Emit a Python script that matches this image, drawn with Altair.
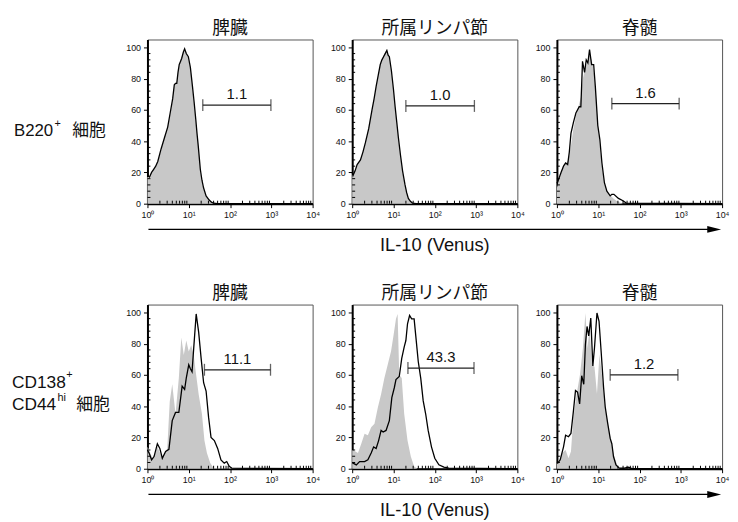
import math
import altair as alt
import pandas as pd

# ---------------- data ----------------
col_titles = ["脾臓", "所属リンパ節", "脊髄"]
axis_title = "IL-10 (Venus)"
x_tick_values = [0, 1, 2, 3, 4]
x_tick_labels = ["10⁰", "10¹", "10²", "10³", "10⁴"]
y_tick_values = [0, 20, 40, 60, 80, 100]

row1_label = ["B220", "+", "細胞"]
row2_label = ["CD138", "+", "CD44", "hi", "細胞"]

# x = log10(intensity), y = % of max
# Row 1 / B220+ : spleen
p1_line_x = [0.0, 0.05, 0.10, 0.15, 0.20, 0.25, 0.33, 0.41, 0.49, 0.55, 0.61, 0.65, 0.68, 0.71, 0.74, 0.77, 0.80, 0.83,
             0.87, 0.90, 0.94, 0.99, 1.04, 1.09, 1.13, 1.17, 1.20, 1.23, 1.26, 1.28, 1.32, 1.36, 1.42, 1.49, 1.55, 1.60, 1.70, 4.0]
p1_line_y = [18, 17, 20, 22, 24, 27, 35, 42, 49, 58, 67, 76, 77, 77, 84, 89, 91, 93,
             97, 99, 96, 94, 87, 75, 65, 54, 45, 37, 28, 22, 15, 10, 5, 2.5, 1, 0.3, 0, 0]
p1_fill_x = [0.0, 0.05, 0.10, 0.15, 0.20, 0.25, 0.33, 0.41, 0.49, 0.55, 0.61, 0.65, 0.68, 0.71, 0.74, 0.77, 0.80, 0.83,
             0.87, 0.90, 0.94, 0.99, 1.04, 1.09, 1.13, 1.17, 1.20, 1.23, 1.26, 1.28, 1.32, 1.36, 1.42, 1.49, 1.55, 1.60, 1.70, 4.0]
p1_fill_y = [17, 17, 19, 22, 24, 27, 34, 42, 49, 57, 66, 75, 77, 78, 84, 88, 91, 94,
             97, 98, 97, 93, 86, 74, 64, 53, 44, 36, 27, 21, 14, 9, 5, 2.5, 1, 0.3, 0, 0]
# Row 1 : lymph node
p2_line_x = [0.0, 0.02, 0.07, 0.12, 0.20, 0.26, 0.32, 0.40, 0.48, 0.53, 0.58, 0.63, 0.68, 0.72, 0.76, 0.80, 0.84, 0.87,
             0.90, 0.95, 1.00, 1.04, 1.08, 1.12, 1.17, 1.22, 1.28, 1.32, 1.36, 1.41, 1.46, 1.55, 4.0]
p2_line_y = [20, 18, 21, 25, 28, 33, 39, 48, 60, 67, 75, 82, 89, 92, 94, 96, 98, 95,
             94, 85, 73, 62, 52, 42, 31, 21, 12, 7, 3.4, 1.5, 0.4, 0, 0]
p2_fill_x = [0.0, 0.02, 0.07, 0.12, 0.20, 0.26, 0.32, 0.40, 0.48, 0.53, 0.58, 0.63, 0.68, 0.72, 0.76, 0.80, 0.84, 0.87,
             0.90, 0.95, 1.00, 1.04, 1.08, 1.12, 1.17, 1.22, 1.28, 1.32, 1.36, 1.41, 1.46, 1.55, 4.0]
p2_fill_y = [19, 18, 21, 25, 28, 33, 39, 48, 59, 67, 75, 82, 88, 92, 95, 97, 99, 96,
             93, 84, 72, 61, 51, 41, 30, 20, 11, 6, 3, 1.5, 0.4, 0, 0]
# Row 1 : spinal cord
p3_line_x = [0.0, 0.02, 0.10, 0.16, 0.21, 0.26, 0.30, 0.34, 0.40, 0.46, 0.54, 0.58, 0.62, 0.67, 0.71, 0.75, 0.79, 0.84,
             0.89, 0.93, 0.99, 1.04, 1.09, 1.15, 1.21, 1.29, 1.33, 1.38, 1.49, 1.60, 1.68, 4.0]
p3_line_y = [13, 14, 20, 24, 26, 25, 33, 45, 52, 58, 62, 62, 91, 84, 92, 90, 98.5, 89,
             89, 75, 50, 41, 26, 13.5, 8, 5, 6, 6, 3.4, 1.9, 0.4, 0]
p3_fill_x = [0.0, 0.05, 0.12, 0.20, 0.28, 0.34, 0.40, 0.46, 0.52, 0.58, 0.63, 0.68, 0.73, 0.79, 0.84, 0.89, 0.95, 1.00,
             1.05, 1.10, 1.16, 1.22, 1.30, 1.38, 1.46, 1.55, 1.62, 4.0]
p3_fill_y = [10, 15, 21, 25, 28, 37, 48, 56, 62, 68, 80, 86, 90, 95, 92, 85, 68, 48,
             34, 22, 12, 7, 5, 3, 1.5, 0.5, 0, 0]
# Row 2 / CD138+ CD44hi : spleen
p4_line_x = [0.0, 0.04, 0.10, 0.16, 0.24, 0.30, 0.36, 0.44, 0.52, 0.60, 0.68, 0.76, 0.84, 0.90, 0.94, 1.00, 1.04, 1.08,
             1.12, 1.18, 1.24, 1.30, 1.36, 1.42, 1.48, 1.54, 1.62, 1.70, 1.78, 1.86, 1.92, 1.98, 2.04, 4.0]
p4_line_y = [12, 10, 5.7, 7.8, 16, 13, 6.7, 11, 12.4, 30.8, 36, 36, 52.8, 50.7, 58, 66.5, 64, 62,
             77, 99, 87.4, 70.6, 55, 49.7, 33, 20, 18, 13, 5.7, 3.6, 4.6, 1.5, 0.4, 0]
p4_fill_x = [0.0, 0.04, 0.12, 0.24, 0.36, 0.48, 0.54, 0.60, 0.68, 0.76, 0.82, 0.88, 0.94, 1.00, 1.06, 1.12, 1.16, 1.24,
             1.32, 1.38, 1.44, 1.52, 1.60, 4.0]
p4_fill_y = [14, 12, 6.7, 14, 6.7, 13, 43, 54, 35, 58, 84, 72.7, 82, 75, 79, 72.7, 64, 47.6,
             35, 18, 10, 3.6, 0.4, 0]
# Row 2 : lymph node
p5_line_x = [0.0, 0.02, 0.10, 0.18, 0.30, 0.38, 0.46, 0.52, 0.58, 0.64, 0.70, 0.75, 0.82, 0.90, 0.96, 1.02, 1.06, 1.14,
             1.20, 1.26, 1.30, 1.34, 1.39, 1.44, 1.50, 1.54, 1.60, 1.66, 1.72, 1.78, 1.84, 1.92, 2.00, 2.10, 2.22, 2.34, 4.0]
p5_line_y = [4, 3.6, 2.5, 4.6, 4.6, 5.7, 10, 14, 13, 18, 24.5, 23.5, 24.5, 30.8, 45.5, 51.8, 57, 59,
             70.6, 78, 82, 92.7, 98, 95.8, 95.8, 85, 68.6, 58, 43.4, 35, 24.5, 14, 6.7, 2.5, 1, 0.4, 0]
p5_fill_x = [0.0, 0.02, 0.14, 0.22, 0.30, 0.38, 0.46, 0.54, 0.62, 0.70, 0.78, 0.86, 0.94, 1.00, 1.06, 1.10, 1.14, 1.20,
             1.26, 1.34, 1.42, 1.50, 1.58, 4.0]
p5_fill_y = [12, 12, 10, 16, 22.4, 21.4, 26.6, 28.7, 39, 47.6, 58, 66.5, 75, 85, 95.8, 99, 60, 58,
             35, 18, 7.8, 1.5, 0, 0]
# Row 2 : spinal cord
p6_line_x = [0.0, 0.02, 0.08, 0.16, 0.21, 0.28, 0.34, 0.40, 0.45, 0.50, 0.55, 0.60, 0.65, 0.69, 0.73, 0.77, 0.82, 0.87,
             0.91, 0.97, 1.02, 1.07, 1.13, 1.17, 1.23, 1.29, 1.33, 1.37, 1.43, 1.51, 1.63, 1.73, 1.83, 4.0]
p6_line_y = [4, 3.6, 5.7, 14, 21.5, 20.5, 22.6, 37, 50, 49, 41.5, 59.5, 54, 79.5, 91, 85, 96.4, 65.8,
             77.4, 99.6, 94.3, 75.3, 52, 39.5, 29, 19.4, 16, 7.8, 2.5, 0.4, 0.4, 1, 0, 0]
p6_fill_x = [0.0, 0.02, 0.12, 0.21, 0.28, 0.34, 0.40, 0.48, 0.56, 0.63, 0.69, 0.74, 0.79, 0.85, 0.91, 0.97, 1.03, 1.10,
             1.17, 1.23, 1.31, 1.39, 1.47, 1.53, 4.0]
p6_fill_y = [4, 3.6, 10, 12, 6.7, 11, 33, 48, 60.5, 77.4, 99.6, 77, 90, 67, 65, 48, 73, 58,
             39.5, 29, 18, 7.8, 1.5, 0, 0]

line_x = [p1_line_x, p2_line_x, p3_line_x, p4_line_x, p5_line_x, p6_line_x]
line_y = [p1_line_y, p2_line_y, p3_line_y, p4_line_y, p5_line_y, p6_line_y]
fill_x = [p1_fill_x, p2_fill_x, p3_fill_x, p4_fill_x, p5_fill_x, p6_fill_x]
fill_y = [p1_fill_y, p2_fill_y, p3_fill_y, p4_fill_y, p5_fill_y, p6_fill_y]

gate_lo = [1.34, 1.30, 1.33, 1.38, 1.35, 1.29]
gate_hi = [2.99, 2.96, 2.96, 2.98, 2.95, 2.93]
gate_y = [63, 62.5, 64, 63.3, 64.4, 60]
gate_label = ["1.1", "1.0", "1.6", "11.1", "43.3", "1.2"]

# ---------------- style ----------------
W, H = 167, 166
LAT = "Liberation Sans"
CJK = "Noto Sans CJK JP"
GRAY = "#c8c8c8"
INK = "#111111"

xs = alt.Scale(domain=[0, 4], nice=False, zero=False)
ys = alt.Scale(domain=[0, 105], nice=False, zero=True)

label_expr = "[" + ",".join("'%s'" % s for s in x_tick_labels) + "][datum.value]"

x_minor = [k + math.log10(m) for k in range(4) for m in range(2, 10)]
y_minor = [v for v in range(4, 101, 4) if v % 20]

one = pd.DataFrame({"k": [0]})

xaxis = alt.Axis(values=x_tick_values, labelExpr=label_expr, title=None, grid=False,
                 labelOverlap=False, labelFlush=False)
yaxis = alt.Axis(values=y_tick_values, title=None, grid=False, labelOverlap=False, labelFlush=False)


def X(f):
    return alt.X(f, scale=xs, axis=xaxis)


def Y(f):
    return alt.Y(f, scale=ys, axis=yaxis)


def text_layer(txt, x, y, size, font, align="left", baseline="middle"):
    return alt.Chart(pd.DataFrame({"t": [txt]})).mark_text(
        font=font, fontSize=size, align=align, baseline=baseline, color=INK
    ).encode(x=alt.value(x), y=alt.value(y), text="t:N")


def panel(r, c):
    k = r * 3 + c
    fdf = pd.DataFrame({"x": fill_x[k], "y": fill_y[k]})
    ldf = pd.DataFrame({"x": line_x[k], "y": line_y[k]})
    gdf = pd.DataFrame({"lo": [gate_lo[k]], "hi": [gate_hi[k]], "y": [gate_y[k]],
                        "mid": [(gate_lo[k] + gate_hi[k]) / 2], "lab": [gate_label[k]]})

    area = alt.Chart(fdf).mark_area(color=GRAY, opacity=1).encode(x=X("x:Q"), y=Y("y:Q"))
    line = alt.Chart(ldf).mark_line(color="black", strokeWidth=1.3).encode(x=X("x:Q"), y=Y("y:Q"))
    xmin = alt.Chart(pd.DataFrame({"x": x_minor})).mark_rule(color="black", strokeWidth=1).encode(
        x=X("x:Q"), y=alt.value(H), y2=alt.value(H - 3))
    ymin = alt.Chart(pd.DataFrame({"y": y_minor})).mark_rule(color="black", strokeWidth=1).encode(
        y=Y("y:Q"), x=alt.value(0), x2=alt.value(3))
    gate = alt.Chart(gdf).mark_rule(color="#222", strokeWidth=1.3).encode(x=X("lo:Q"), x2="hi", y=Y("y:Q"))
    caps = alt.Chart(gdf).transform_fold(["lo", "hi"]).mark_tick(
        orient="vertical", size=12, thickness=1.3, color="#222").encode(x=X("value:Q"), y=Y("y:Q"))
    glab = alt.Chart(gdf).mark_text(font=LAT, fontSize=15, dy=-11, color=INK).encode(
        x=X("mid:Q"), y=Y("y:Q"), text="lab:N")
    title = text_layer(col_titles[c], W / 2, -11, 18, CJK, align="center")

    layers = [area, line, xmin, ymin, gate, caps, glab, title]

    if c == 0:
        ay = H + 26
        layers.append(alt.Chart(one).mark_rule(color="black", strokeWidth=1.3).encode(
            x=alt.value(1), x2=alt.value(567), y=alt.value(ay)))
        layers.append(alt.Chart(one).mark_point(
            shape="M-1,-0.5L1,0L-1,0.5Z", filled=True, size=196, color="black", opacity=1
        ).encode(x=alt.value(573), y=alt.value(ay)))
        if r == 0:
            layers += [
                text_layer(row1_label[0], -135, 93, 17, LAT),
                text_layer(row1_label[1], -94, 85, 11, LAT),
                text_layer(row1_label[2], -76, 93, 17, CJK),
            ]
        else:
            layers += [
                text_layer(row2_label[0], -137, 79, 17.5, LAT),
                text_layer(row2_label[1], -82, 71, 11, LAT),
                text_layer(row2_label[2], -137, 102, 17.5, LAT),
                text_layer(row2_label[3], -91, 94, 11, LAT),
                text_layer(row2_label[4], -72, 102, 17, CJK),
            ]
    if c == 1:
        layers.append(text_layer(axis_title, W / 2, H + 42, 18.5, LAT, align="center"))

    return alt.layer(*layers).properties(width=W, height=H)


panels = [panel(r, c) for r in range(2) for c in range(3)]
chart = alt.ConcatChart(
    concat=panels, columns=3, spacing={"row": 102, "column": 40}, bounds="flush"
).properties(
    padding={"left": 3, "top": 8, "right": 0, "bottom": 0}
).configure_view(
    stroke="#555555", strokeWidth=1
).configure_axis(
    domainColor="black", domainWidth=2, tickColor="black", tickSize=4, tickWidth=1,
    labelColor=INK, labelFont=LAT, labelFontSize=9, labelPadding=3,
    labelFlush=False, labelOverlap=False
)

chart.save("out.html", embed_options={"renderer": "svg", "actions": False})
